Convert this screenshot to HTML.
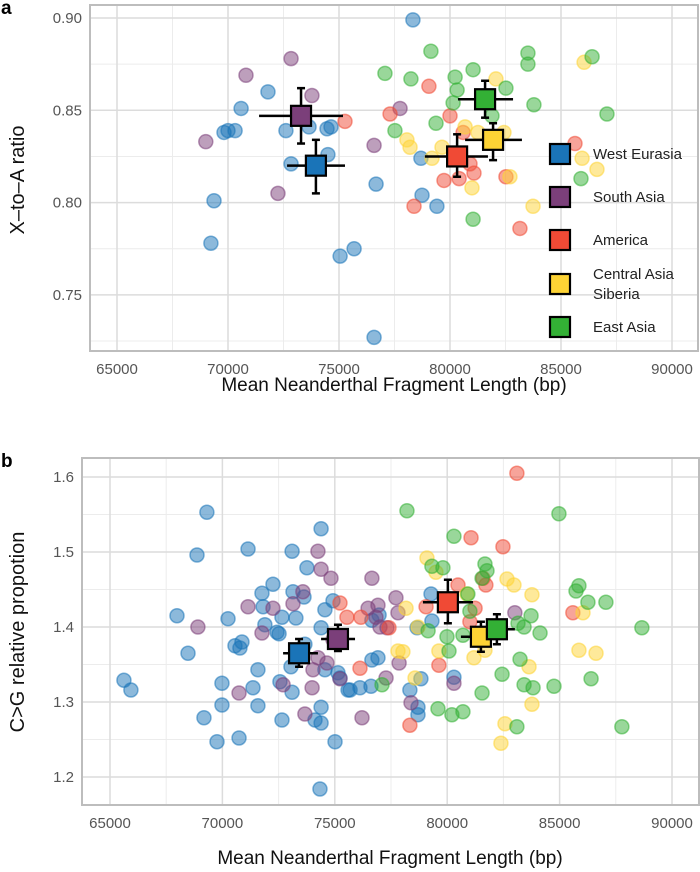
<!DOCTYPE html>
<html><head><meta charset="utf-8">
<style>
html,body{margin:0;padding:0;background:#fff;}
svg{display:block;font-family:"Liberation Sans",sans-serif;}
</style></head>
<body>
<svg id="fig" width="700" height="872" viewBox="0 0 700 872">
<text x="1" y="14" font-size="19" font-weight="bold">a</text>
<text x="1" y="467" font-size="19" font-weight="bold">b</text>
<text transform="translate(24,180) rotate(-90)" text-anchor="middle" font-size="20" fill="#111">X–to–A ratio</text>
<text x="394" y="391" text-anchor="middle" font-size="19" fill="#111">Mean Neanderthal Fragment Length (bp)</text>
<text transform="translate(24,632) rotate(-90)" text-anchor="middle" font-size="20" fill="#111">C&gt;G relative propotion</text>
<text x="390" y="864" text-anchor="middle" font-size="19" fill="#111">Mean Neanderthal Fragment Length (bp)</text>
</svg>
<script>
// ---------- Data (x in thousands of bp) ----------
const groups = ["West Eurasia","South Asia","America","Central Asia\nSiberia","East Asia"];
const groupColors = ["#1a74b8","#7b3f7a","#f04a35","#fdd335","#33b035"];
const xTicks = [65000,70000,75000,80000,85000,90000];
const yTicksA = [0.75,0.80,0.85,0.90];
const yTicksB = [1.2,1.3,1.4,1.5,1.6];

// Panel a points
const aWE_x=[71.8,70.59,70.0,69.82,70.32,72.61,73.65,74.46,74.64,72.84,74.5,69.37,69.23,75.05,78.33,76.67,78.69,78.74,79.41,75.68,76.58];
const aWE_y=[0.860,0.851,0.839,0.838,0.839,0.839,0.841,0.840,0.841,0.821,0.826,0.801,0.778,0.771,0.899,0.810,0.824,0.804,0.798,0.775,0.727];
const aSA_x=[72.84,70.81,73.78,69.0,72.25,77.75,76.58];
const aSA_y=[0.878,0.869,0.858,0.833,0.805,0.851,0.831];
const aAM_x=[75.27,79.05,77.3,80.0,80.59,80.9,81.08,79.73,80.41,82.52,85.63,78.38,83.15];
const aAM_y=[0.844,0.863,0.848,0.847,0.838,0.821,0.816,0.812,0.813,0.814,0.832,0.798,0.786];
const aCA_x=[82.07,86.04,80.68,81.26,82.43,78.06,78.2,79.19,79.64,80.99,82.7,85.95,86.62,83.74];
const aCA_y=[0.867,0.876,0.841,0.838,0.838,0.834,0.830,0.824,0.830,0.808,0.814,0.824,0.818,0.798];
const aEA_x=[79.14,83.51,83.51,86.4,77.07,78.24,81.04,80.23,80.32,82.52,80.14,83.78,87.07,81.89,77.52,79.37,85.9,81.04];
const aEA_y=[0.882,0.881,0.875,0.879,0.870,0.867,0.872,0.868,0.861,0.862,0.854,0.853,0.848,0.847,0.839,0.843,0.813,0.791];
// Panel a means
const aMeanX=[73.96,73.29,80.32,81.94,81.58];
const aMeanY=[0.820,0.847,0.825,0.834,0.856];
const aMeanXlo=[72.66,71.40,78.87,80.68,80.36];
const aMeanXhi=[75.27,75.18,81.71,83.24,82.84];
const aMeanYlo=[0.805,0.832,0.814,0.823,0.846];
const aMeanYhi=[0.834,0.862,0.837,0.843,0.866];

// Panel b points
const bWE_x=[69.31,68.87,71.14,73.1,74.39,73.76,67.98,70.25,68.47,65.62,65.93,69.18,69.76,70.74,69.98,69.98,70.56,70.78,70.87,71.58,71.36,71.58,71.76,71.81,71.89,72.25,72.43,72.65,72.52,73.14,73.27,73.05,73.1,72.56,72.65,73.63,74.39,74.56,74.92,74.56,74.39,74.12,74.39,75.01,74.34,75.14,75.23,75.59,73.67,79.28,79.32,78.66,76.65,76.92,78.83,78.34,80.3,75.68,76.12,76.61,78.7,78.7,76.65,76.97];
const bWE_y=[1.553,1.496,1.504,1.501,1.531,1.479,1.415,1.411,1.365,1.329,1.316,1.279,1.247,1.252,1.296,1.325,1.375,1.372,1.380,1.343,1.319,1.295,1.445,1.427,1.403,1.457,1.393,1.413,1.391,1.447,1.412,1.347,1.313,1.327,1.276,1.440,1.399,1.423,1.435,1.343,1.293,1.276,1.272,1.247,1.184,1.339,1.332,1.316,1.377,1.444,1.408,1.399,1.356,1.359,1.331,1.316,1.333,1.316,1.319,1.321,1.293,1.283,1.409,1.416];
const bSA_x=[68.91,71.14,72.25,73.14,73.58,71.76,74.25,74.39,74.83,72.7,73.99,70.74,73.67,74.03,74.25,74.65,75.23,74.92,76.65,77.72,77.81,76.48,76.92,76.83,77.01,77.32,77.86,77.28,80.3,78.39,76.21,83.01];
const bSA_y=[1.400,1.427,1.425,1.431,1.447,1.392,1.501,1.477,1.465,1.323,1.319,1.312,1.284,1.343,1.359,1.352,1.331,1.383,1.465,1.439,1.419,1.425,1.429,1.413,1.400,1.399,1.352,1.332,1.325,1.299,1.279,1.419];
const bAM_x=[75.23,75.54,83.1,81.06,82.48,80.48,81.72,81.59,79.06,81.24,81.01,85.59,76.16,76.12,79.63,78.34,77.41];
const bAM_y=[1.432,1.413,1.605,1.519,1.507,1.456,1.456,1.465,1.427,1.425,1.407,1.419,1.413,1.345,1.349,1.269,1.399];
const bCA_x=[79.1,79.5,82.66,82.97,83.77,78.17,86.04,80.88,78.7,79.63,77.81,78.03,85.86,86.62,81.19,83.64,78.57,83.77,82.57,82.39,81.68];
const bCA_y=[1.492,1.473,1.464,1.456,1.443,1.425,1.419,1.444,1.400,1.368,1.368,1.367,1.369,1.365,1.359,1.347,1.332,1.297,1.271,1.245,1.369];
const bEA_x=[78.21,84.97,80.3,79.32,79.81,81.68,81.77,81.55,80.92,81.01,85.86,85.73,86.26,87.06,83.73,83.15,83.42,84.13,88.66,79.15,79.99,80.08,80.7,83.24,82.44,83.42,83.82,84.75,86.4,81.55,79.59,80.21,80.7,83.1,87.77,77.1];
const bEA_y=[1.555,1.551,1.521,1.481,1.479,1.484,1.475,1.465,1.444,1.421,1.455,1.448,1.433,1.433,1.415,1.405,1.400,1.392,1.399,1.395,1.387,1.368,1.389,1.357,1.337,1.323,1.319,1.321,1.331,1.312,1.291,1.283,1.287,1.267,1.267,1.323];
// Panel b means
const bMeanX=[73.41,75.14,80.03,81.50,82.21];
const bMeanY=[1.365,1.384,1.433,1.387,1.397];
const bMeanXlo=[72.70,74.39,78.92,80.61,81.77];
const bMeanXhi=[74.25,75.90,81.15,82.35,83.01];
const bMeanYlo=[1.347,1.368,1.405,1.367,1.377];
const bMeanYhi=[1.384,1.403,1.463,1.407,1.417];

const NS="http://www.w3.org/2000/svg";
const svg=document.getElementById('fig');
function mk(tag,attrs,parent){const e=document.createElementNS(NS,tag);for(const k in attrs)e.setAttribute(k,attrs[k]);(parent||svg).appendChild(e);return e;}

function panel(cfg){
  const {L,T,R,B,xAt,yAt,yTicks,yMinor,yFmt,id}=cfg;
  const g=mk('g',{});
  
  
  const xs=v=>xAt(v/1000);
  for(let v=62500;v<=92500;v+=5000){const x=xs(v);if(x>L&&x<R){const l=mk('line',{x1:x,x2:x,y1:T,y2:B,stroke:'#ececec','stroke-width':1},g);}}
  yMinor.forEach(v=>{const y=yAt(v);if(y>T&&y<B){const l=mk('line',{x1:L,x2:R,y1:y,y2:y,stroke:'#ececec','stroke-width':1},g);}});
  xTicks.forEach(v=>{const x=xs(v);const l=mk('line',{x1:x,x2:x,y1:T,y2:B,stroke:'#dcdcdc','stroke-width':1.5},g);
    const t=mk('text',{x:x,y:B+23,'text-anchor':'middle','font-size':15,fill:'#555'},g);t.textContent=v;});
  yTicks.forEach(v=>{const y=yAt(v);const l=mk('line',{x1:L,x2:R,y1:y,y2:y,stroke:'#dcdcdc','stroke-width':1.5},g);
    const t=mk('text',{x:L-8,y:y+5,'text-anchor':'end','font-size':15,fill:'#555'},g);t.textContent=yFmt(v);});
  const fr=mk('rect',{x:L,y:T,width:R-L,height:B-T,fill:'none',stroke:'#bdbdbd','stroke-width':2},g);
  
  cfg.series.forEach((s,i)=>{
    s[0].forEach((xv,j)=>{
      const c=mk('circle',{cx:xAt(xv),cy:yAt(s[1][j]),r:7,fill:groupColors[i],'fill-opacity':0.5,stroke:groupColors[i],'stroke-opacity':0.55,'stroke-width':1.5},g);
      
      
    });
  });
  const m=cfg.means;
  m.x.forEach((xv,i)=>{
    const cx=xAt(xv),cy=yAt(m.y[i]);
    const eg=mk('g',{},g);
    
    
    mk('line',{x1:xAt(m.xlo[i]),x2:xAt(m.xhi[i]),y1:cy,y2:cy,stroke:'#000','stroke-width':2.5},eg);
    const y1=yAt(m.yhi[i]),y2=yAt(m.ylo[i]);
    mk('line',{x1:cx,x2:cx,y1:y1,y2:y2,stroke:'#000','stroke-width':2.5},eg);
    mk('line',{x1:cx-4,x2:cx+4,y1:y1,y2:y1,stroke:'#000','stroke-width':2.5},eg);
    mk('line',{x1:cx-4,x2:cx+4,y1:y2,y2:y2,stroke:'#000','stroke-width':2.5},eg);
    mk('rect',{x:cx-10,y:cy-10,width:20,height:20,fill:groupColors[i],stroke:'#000','stroke-width':2.2},eg);
  });
}

const axA_x=v=>117+(v-65)*22.2, axA_y=v=>18+(0.90-v)*1846;
panel({id:'panel-a',L:90,T:5,R:698,B:351,xAt:axA_x,yAt:axA_y,yTicks:yTicksA,yMinor:[0.725,0.775,0.825,0.875],yFmt:v=>v.toFixed(2),
  series:[[aWE_x,aWE_y],[aSA_x,aSA_y],[aAM_x,aAM_y],[aCA_x,aCA_y],[aEA_x,aEA_y]],
  means:{x:aMeanX,y:aMeanY,xlo:aMeanXlo,xhi:aMeanXhi,ylo:aMeanYlo,yhi:aMeanYhi}});
const axB_x=v=>110+(v-65)*22.48, axB_y=v=>477+(1.6-v)*750;
panel({id:'panel-b',L:82,T:458,R:699,B:805,xAt:axB_x,yAt:axB_y,yTicks:yTicksB,yMinor:[1.25,1.35,1.45,1.55],yFmt:v=>v.toFixed(1),
  series:[[bWE_x,bWE_y],[bSA_x,bSA_y],[bAM_x,bAM_y],[bCA_x,bCA_y],[bEA_x,bEA_y]],
  means:{x:bMeanX,y:bMeanY,xlo:bMeanXlo,xhi:bMeanXhi,ylo:bMeanYlo,yhi:bMeanYhi}});

const legY=[154,197,240,284,327];
groups.forEach((gname,i)=>{
  const lg=mk('g',{});
  
  
  mk('rect',{x:550,y:legY[i]-10,width:20,height:20,fill:groupColors[i],stroke:'#000','stroke-width':2.2},lg);
  const lines=gname.split('\n');
  lines.forEach((ln,k)=>{
    const t=mk('text',{x:593,y:legY[i]+5+(k-(lines.length-1)/2)*20,'font-size':15,fill:'#222'},lg);
    t.textContent=ln;
  });
});
</script>
</body></html>
